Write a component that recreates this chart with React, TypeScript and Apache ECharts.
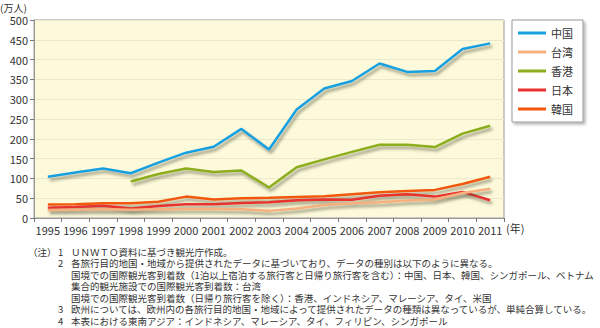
import React, { useEffect, useRef } from "react";
import * as echarts from "echarts";

const years = ["1995","1996","1997","1998","1999","2000","2001","2002","2003","2004","2005","2006","2007","2008","2009","2010","2011"];
const china = [104, 115, 125, 113, 140, 165, 180, 225, 173, 274, 327, 346, 390, 369, 371, 427, 441];
const taiwan = [20, 21, 22, 21, 22, 23, 23, 22, 18, 24, 33, 37, 40, 44, 47, 63, 74];
const hongkong = [null, null, null, 92, 111, 125, 116, 120, 77, 128, 148, 167, 185, 185, 179, 213, 233];
const japan = [26, 28, 31, 24, 30, 35, 35, 38, 40, 45, 47, 46, 56, 60, 54, 66, 45];
const korea = [34, 35, 37, 37, 41, 54, 47, 50, 51, 53, 55, 60, 65, 68, 71, 86, 104];

const seriesNames = ["中国", "台湾", "香港", "日本", "韓国"];
const seriesColors = ["#17a0e0", "#f5b07e", "#8cad1c", "#e8302e", "#f2590f"];
const seriesData = [china, taiwan, hongkong, japan, korea];

const noteLines = [
  { num: "1", text: "ＵＮＷＴＯ資料に基づき観光庁作成。" },
  { num: "2", text: "各旅行目的地国・地域から提供されたデータに基づいており、データの種別は以下のように異なる。" },
  { num: "", text: "国境での国際観光客到着数（1泊以上宿泊する旅行客と日帰り旅行客を含む）：中国、日本、韓国、シンガポール、ベトナム" },
  { num: "", text: "集合的観光施設での国際観光客到着数：台湾" },
  { num: "", text: "国境での国際観光客到着数（日帰り旅行客を除く）：香港、インドネシア、マレーシア、タイ、米国" },
  { num: "3", text: "欧州については、欧州内の各旅行目的地国・地域によって提供されたデータの種類は異なっているが、単純合算している。" },
  { num: "4", text: "本表における東南アジア：インドネシア、マレーシア、タイ、フィリピン、シンガポール" },
];

const FONT = "'Noto Sans CJK JP', 'Noto Sans', sans-serif";

export default function App() {
  const ref = useRef<HTMLDivElement>(null);
  useEffect(() => {
    document.body.style.margin = "0";
    const chart = echarts.init(ref.current!, null, { renderer: "svg" });
    const NF = 9.5;
    const graphics: any[] = [
      { type: "text", left: 0, top: 2, style: { text: "(万人)", font: `10px ${FONT}`, fill: "#333" } },
      { type: "text", left: 506, top: 222, style: { text: "(年)", font: `11px ${FONT}`, fill: "#333" } },
      { type: "text", left: 28, top: 246, style: { text: "（注）", font: `${NF}px ${FONT}`, fill: "#333", lineHeight: 11 } },
    ];
    noteLines.forEach((l, i) => {
      const y = 246 + i * 11.5;
      if (l.num) {
        graphics.push({ type: "text", left: 58, top: y, style: { text: l.num, font: `${NF}px ${FONT}`, fill: "#333", lineHeight: 11 } });
      }
      graphics.push({ type: "text", left: 71, top: y, style: { text: l.text, font: `${NF}px ${FONT}`, fill: "#333", lineHeight: 11 } });
    });
    chart.setOption({
      animation: false,
      textStyle: { fontFamily: FONT },
      grid: {
        left: 34, top: 20, width: 470, height: 198,
        show: true, backgroundColor: "#fdfadb", borderColor: "#9a9a9a", borderWidth: 1,
      },
      legend: {
        orient: "vertical",
        left: 512, top: 20,
        padding: [7, 10, 7, 6],
        itemWidth: 28, itemHeight: 3, itemGap: 7,
        icon: "rect",
        backgroundColor: "#fff",
        borderColor: "#9a9a9a", borderWidth: 1,
        shadowColor: "rgba(0,0,0,0.3)", shadowBlur: 3, shadowOffsetX: 2, shadowOffsetY: 2,
        textStyle: { fontSize: 11, color: "#333", lineHeight: 12, fontFamily: FONT },
        data: seriesNames,
      },
      xAxis: {
        type: "category",
        data: years,
        boundaryGap: true,
        axisLine: { lineStyle: { color: "#9a9a9a" } },
        axisTick: { show: true, length: 4, lineStyle: { color: "#777" } },
        axisLabel: { color: "#333", fontSize: 11, margin: 6, interval: 0 },
      },
      yAxis: {
        type: "value",
        min: 0, max: 500, interval: 50,
        axisLine: { show: true, lineStyle: { color: "#9a9a9a" } },
        axisTick: { show: true, length: 4, lineStyle: { color: "#777" } },
        axisLabel: { color: "#333", fontSize: 11, margin: 6 },
        splitLine: { lineStyle: { color: "#ede8cc" } },
      },
      graphic: graphics,
      series: seriesNames.map((n, i) => ({
        name: n,
        type: "line",
        data: seriesData[i],
        symbol: "none",
        connectNulls: false,
        itemStyle: { color: seriesColors[i] },
        lineStyle: {
          color: seriesColors[i], width: 2.5,
          shadowColor: "rgba(70,70,50,0.55)", shadowBlur: 3, shadowOffsetX: 2, shadowOffsetY: 3,
        },
        z: 10 - i,
      })),
    });
    return () => chart.dispose();
  }, []);
  return <div ref={ref} style={{ width: 600, height: 328 }} />;
}
